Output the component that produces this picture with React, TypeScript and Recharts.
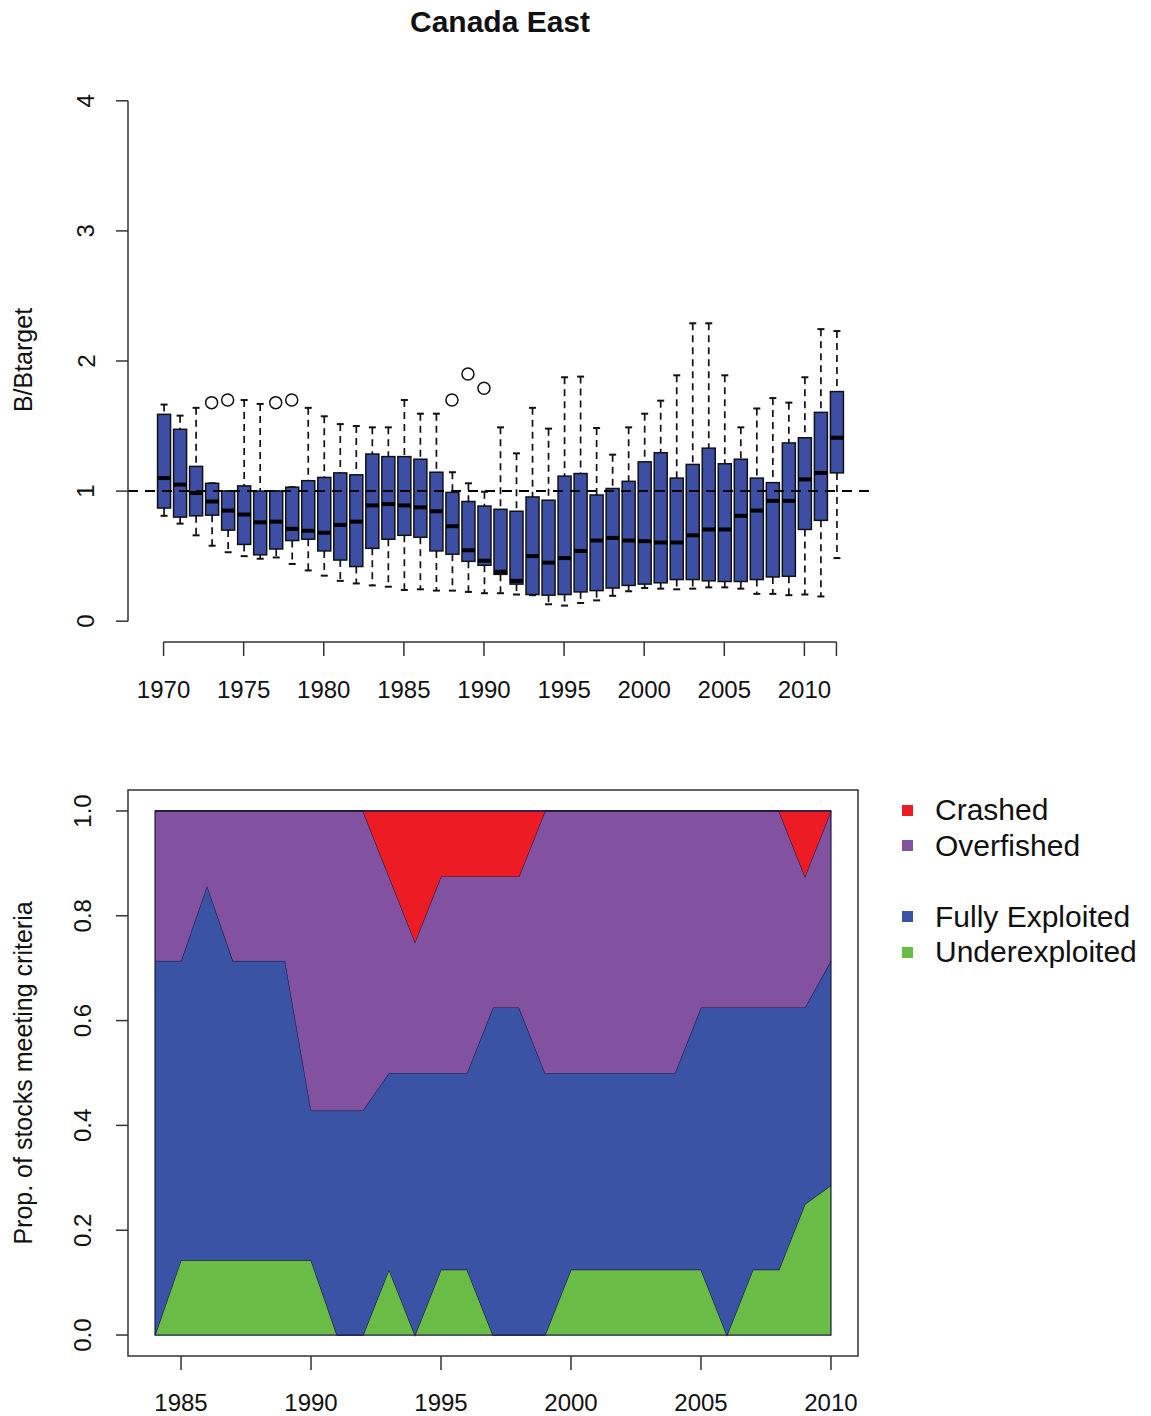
import React from 'react';
import {
  ComposedChart,
  Bar,
  Scatter,
  XAxis,
  YAxis,
  ReferenceLine,
  ReferenceArea,
  AreaChart,
  Area,
  Legend,
} from 'recharts';

const FONT = '"Liberation Sans", Arial, Helvetica, sans-serif';

// ---- top panel: B/Btarget boxplots by year ----
const boxYears = [
  1970, 1971, 1972, 1973, 1974, 1975, 1976, 1977, 1978, 1979, 1980, 1981, 1982, 1983, 1984,
  1985, 1986, 1987, 1988, 1989, 1990, 1991, 1992, 1993, 1994, 1995, 1996, 1997, 1998, 1999,
  2000, 2001, 2002, 2003, 2004, 2005, 2006, 2007, 2008, 2009, 2010, 2011, 2012,
];
const whiskerLow = [
  0.81, 0.75, 0.66, 0.58, 0.53, 0.5, 0.48, 0.49, 0.44, 0.39, 0.35, 0.31, 0.29, 0.275, 0.265,
  0.24, 0.245, 0.235, 0.235, 0.225, 0.215, 0.215, 0.205, 0.2, 0.13, 0.12, 0.14, 0.16, 0.195, 0.23,
  0.255, 0.25, 0.245, 0.25, 0.26, 0.26, 0.25, 0.21, 0.21, 0.2, 0.205, 0.19, 0.485,
];
const lowerQuartile = [
  0.87, 0.8, 0.81, 0.815, 0.7, 0.59, 0.51, 0.555, 0.62, 0.63, 0.54, 0.47, 0.42, 0.56, 0.63,
  0.66, 0.645, 0.54, 0.515, 0.46, 0.43, 0.36, 0.285, 0.205, 0.2, 0.205, 0.225, 0.235, 0.255, 0.275,
  0.285, 0.295, 0.32, 0.32, 0.31, 0.305, 0.305, 0.32, 0.34, 0.345, 0.705, 0.775, 1.14,
];
const medians = [
  1.1, 1.05, 0.985, 0.92, 0.85, 0.82, 0.76, 0.765, 0.71, 0.695, 0.68, 0.74, 0.765, 0.89, 0.9,
  0.89, 0.875, 0.845, 0.73, 0.545, 0.465, 0.38, 0.31, 0.5, 0.45, 0.485, 0.54, 0.62, 0.64, 0.62,
  0.615, 0.605, 0.605, 0.66, 0.705, 0.705, 0.81, 0.85, 0.925, 0.925, 1.09, 1.14, 1.41,
];
const upperQuartile = [
  1.59, 1.475, 1.19, 1.06, 1.0, 1.04, 1.0, 1.0, 1.03, 1.08, 1.105, 1.14, 1.125, 1.285, 1.265,
  1.265, 1.245, 1.145, 0.99, 0.92, 0.885, 0.86, 0.845, 0.955, 0.93, 1.115, 1.135, 0.97, 1.02, 1.075,
  1.225, 1.295, 1.1, 1.205, 1.33, 1.21, 1.245, 1.1, 1.065, 1.37, 1.41, 1.605, 1.765,
];
const whiskerHigh = [
  1.665, 1.58, 1.64, 1.06, 1.0, 1.7, 1.67, 1.0, 1.03, 1.64, 1.575, 1.515, 1.5, 1.49, 1.49,
  1.7, 1.595, 1.595, 1.145, 1.06, 0.995, 1.49, 1.29, 1.64, 1.48, 1.875, 1.88, 1.485, 1.28, 1.49,
  1.595, 1.695, 1.89, 2.29, 2.29, 1.89, 1.49, 1.635, 1.715, 1.68, 1.875, 2.245, 2.23,
];
const outlierYears = [1973, 1974, 1977, 1978, 1988, 1989, 1990];
const outlierValues = [1.68, 1.7, 1.68, 1.7, 1.7, 1.9, 1.79];
const boxXTicks = [1970, 1975, 1980, 1985, 1990, 1995, 2000, 2005, 2010, 2012];
const boxXLabels = ['1970', '1975', '1980', '1985', '1990', '1995', '2000', '2005', '2010', ''];
const boxYTicks = [0, 1, 2, 3, 4];

// ---- bottom panel: proportion of stocks by status ----
const areaYears = [
  1984, 1985, 1986, 1987, 1988, 1989, 1990, 1991, 1992, 1993, 1994, 1995, 1996, 1997,
  1998, 1999, 2000, 2001, 2002, 2003, 2004, 2005, 2006, 2007, 2008, 2009, 2010,
];
const underexploited = [
  0, 0.143, 0.143, 0.143, 0.143, 0.143, 0.143, 0, 0, 0.125, 0, 0.125, 0.125, 0,
  0, 0, 0.125, 0.125, 0.125, 0.125, 0.125, 0.125, 0, 0.125, 0.125, 0.25, 0.286,
];
const fullyExploited = [
  0.714, 0.571, 0.714, 0.571, 0.571, 0.571, 0.286, 0.429, 0.429, 0.375, 0.5, 0.375, 0.375, 0.625,
  0.625, 0.5, 0.375, 0.375, 0.375, 0.375, 0.375, 0.5, 0.625, 0.5, 0.5, 0.375, 0.428,
];
const overfished = [
  0.286, 0.286, 0.143, 0.286, 0.286, 0.286, 0.571, 0.571, 0.571, 0.375, 0.25, 0.375, 0.375, 0.25,
  0.25, 0.5, 0.5, 0.5, 0.5, 0.5, 0.5, 0.375, 0.375, 0.375, 0.375, 0.25, 0.286,
];
const crashed = [
  0, 0, 0, 0, 0, 0, 0, 0, 0, 0.125, 0.25, 0.125, 0.125, 0.125,
  0.125, 0, 0, 0, 0, 0, 0, 0, 0, 0, 0, 0.125, 0,
];
const areaXTicks = [1985, 1990, 1995, 2000, 2005, 2010];
const areaYTicks = [0, 0.2, 0.4, 0.6, 0.8, 1.0];

const legendLabels = ['Crashed', 'Overfished', '', 'Fully Exploited', 'Underexploited'];
const legendColors = ['#ED1C24', '#8251A0', '', '#3A53A4', '#69BC45'];

const BOX_FILL = '#3D4FA5';
const AXIS_COLOR = '#333';

const boxData = boxYears.map((year, i) => ({
  year,
  lo: whiskerLow[i],
  q1: lowerQuartile[i],
  med: medians[i],
  q3: upperQuartile[i],
  hi: whiskerHigh[i],
}));
const outlierData = outlierYears.map((year, i) => ({ year, value: outlierValues[i] }));

const areaData = areaYears.map((year, i) => ({
  year,
  under: underexploited[i],
  full: fullyExploited[i],
  over: overfished[i],
  crash: crashed[i],
}));

// top panel geometry (page pixels, chart placed at 0,0)
const TOP_H = 720;
const TOP_PLOT_BOTTOM = 642;
const TOP_X_DOMAIN = [1967.78, 2014.22];
const TOP_Y_DOMAIN = [-0.16, 4.16];

// bottom panel geometry (chart placed at top 740)
const BOT_TOP = 740;
const BOT_H = 676;
const BOT_PLOT_BOTTOM = 616;
const BOT_X_DOMAIN = [1982.96, 2011.04];
const BOT_Y_DOMAIN = [-0.04, 1.04];

const BoxShape = (props: any) => {
  const { x, y, width, height, payload } = props;
  const { lo, q1, med, q3, hi } = payload;
  const span = hi - lo;
  const py = (v: number) => (span > 0 ? y + ((hi - v) / span) * height : y);
  const cx = x + width / 2;
  const cap = 7;
  return (
    <g>
      <line x1={cx} x2={cx} y1={py(hi)} y2={py(q3)} stroke="#111" strokeWidth={1.7} strokeDasharray="7 5" />
      <line x1={cx} x2={cx} y1={py(q1)} y2={py(lo)} stroke="#111" strokeWidth={1.7} strokeDasharray="7 5" />
      <line x1={cx - cap / 2} x2={cx + cap / 2} y1={py(hi)} y2={py(hi)} stroke="#111" strokeWidth={2} />
      <line x1={cx - cap / 2} x2={cx + cap / 2} y1={py(lo)} y2={py(lo)} stroke="#111" strokeWidth={2} />
      <rect x={x} y={py(q3)} width={width} height={py(q1) - py(q3)} fill={BOX_FILL} stroke="#111" strokeWidth={1.5} />
      <line x1={x} x2={x + width} y1={py(med)} y2={py(med)} stroke="#000" strokeWidth={4} />
    </g>
  );
};

const OpenCircle = (props: any) => (
  <circle cx={props.cx} cy={props.cy} r={6} fill="none" stroke="#111" strokeWidth={1.5} />
);

const topXTick = (p: any) => {
  const idx = boxXTicks.indexOf(p.payload.value);
  return (
    <g>
      <line x1={p.x} x2={p.x} y1={TOP_PLOT_BOTTOM} y2={TOP_PLOT_BOTTOM + 14} stroke={AXIS_COLOR} strokeWidth={1.5} />
      <text x={p.x} y={TOP_PLOT_BOTTOM + 47} textAnchor="middle" dominantBaseline="central" fontSize={24} fontFamily={FONT} fill="#111">
        {boxXLabels[idx]}
      </text>
    </g>
  );
};

const topYTick = (p: any) => (
  <g>
    <line x1={116} x2={128} y1={p.y} y2={p.y} stroke={AXIS_COLOR} strokeWidth={1.5} />
    <text x={86} y={p.y} transform={`rotate(-90 86 ${p.y})`} textAnchor="middle" dominantBaseline="central" fontSize={24} fontFamily={FONT} fill="#111">
      {p.payload.value}
    </text>
  </g>
);

const botXTick = (p: any) => (
  <g>
    <line x1={p.x} x2={p.x} y1={BOT_PLOT_BOTTOM} y2={BOT_PLOT_BOTTOM + 14} stroke={AXIS_COLOR} strokeWidth={1.5} />
    <text x={p.x} y={BOT_PLOT_BOTTOM + 46} textAnchor="middle" dominantBaseline="central" fontSize={24} fontFamily={FONT} fill="#111">
      {p.payload.value}
    </text>
  </g>
);

const botYTick = (p: any) => (
  <g>
    <line x1={116} x2={128} y1={p.y} y2={p.y} stroke={AXIS_COLOR} strokeWidth={1.5} />
    <text x={83} y={p.y} transform={`rotate(-90 83 ${p.y})`} textAnchor="middle" dominantBaseline="central" fontSize={24} fontFamily={FONT} fill="#111">
      {Number(p.payload.value).toFixed(1)}
    </text>
  </g>
);

const StatusLegend = () => (
  <div style={{ position: 'relative', width: 256, height: 180, fontFamily: FONT }}>
    {legendLabels.map((label, i) =>
      label ? (
        <div key={label} style={{ position: 'absolute', left: 0, top: i * 35.5, height: 36, display: 'flex', alignItems: 'center' }}>
          <span style={{ display: 'inline-block', width: 11, height: 11, marginLeft: 7, background: legendColors[i] }} />
          <span style={{ marginLeft: 22, fontSize: 30, color: '#111', whiteSpace: 'nowrap' }}>{label}</span>
        </div>
      ) : null
    )}
  </div>
);

const AxisTitle = ({ text, cx, cy }: { text: string; cx: number; cy: number }) => (
  <div
    style={{
      position: 'absolute',
      left: cx,
      top: cy,
      transform: 'translate(-50%, -50%) rotate(-90deg)',
      whiteSpace: 'nowrap',
      fontSize: 25,
      fontFamily: FONT,
      color: '#111',
    }}
  >
    {text}
  </div>
);

export default function App() {
  return (
    <div style={{ position: 'absolute', left: 0, top: 0, width: 1151, height: 1416, background: '#fff', overflow: 'hidden' }}>
      <div
        style={{
          position: 'absolute',
          left: 500,
          top: 22,
          transform: 'translate(-50%, -50%)',
          fontSize: 30,
          fontWeight: 'bold',
          fontFamily: FONT,
          color: '#111',
          whiteSpace: 'nowrap',
        }}
      >
        Canada East
      </div>
      <AxisTitle text="B/Btarget" cx={23} cy={360} />
      <AxisTitle text="Prop. of stocks meeting criteria" cx={23} cy={1073} />

      <div style={{ position: 'absolute', left: 0, top: 0 }}>
        <ComposedChart width={1151} height={TOP_H} data={boxData} margin={{ top: 80, right: 279, bottom: 0, left: 0 }}>
          <XAxis
            dataKey="year"
            type="number"
            domain={TOP_X_DOMAIN}
            allowDataOverflow
            ticks={boxXTicks}
            interval={0}
            height={TOP_H - TOP_PLOT_BOTTOM}
            axisLine={false}
            tickLine={false}
            tick={topXTick}
          />
          <YAxis
            type="number"
            domain={TOP_Y_DOMAIN}
            allowDataOverflow
            ticks={boxYTicks}
            interval={0}
            width={128}
            axisLine={false}
            tickLine={false}
            tick={topYTick}
          />
          <Bar dataKey={(d: any) => [d.lo, d.hi]} barSize={13} shape={<BoxShape />} isAnimationActive={false} />
          <Scatter data={outlierData} dataKey="value" shape={<OpenCircle />} isAnimationActive={false} />
          <ReferenceLine y={1} stroke="#000" strokeWidth={2} strokeDasharray="10 7" />
          <ReferenceLine
            segment={[{ x: 1970, y: TOP_Y_DOMAIN[0] }, { x: 2012, y: TOP_Y_DOMAIN[0] }]}
            stroke={AXIS_COLOR}
            strokeWidth={1.5}
            ifOverflow="visible"
          />
          <ReferenceLine
            segment={[{ x: TOP_X_DOMAIN[0], y: 0 }, { x: TOP_X_DOMAIN[0], y: 4 }]}
            stroke={AXIS_COLOR}
            strokeWidth={1.5}
            ifOverflow="visible"
          />
        </ComposedChart>
      </div>

      <div style={{ position: 'absolute', left: 0, top: BOT_TOP }}>
        <AreaChart width={1151} height={BOT_H} data={areaData} margin={{ top: 50, right: 293, bottom: 0, left: 0 }}>
          <XAxis
            dataKey="year"
            type="number"
            domain={BOT_X_DOMAIN}
            allowDataOverflow
            ticks={areaXTicks}
            interval={0}
            height={BOT_H - BOT_PLOT_BOTTOM}
            axisLine={false}
            tickLine={false}
            tick={botXTick}
          />
          <YAxis
            type="number"
            domain={BOT_Y_DOMAIN}
            allowDataOverflow
            ticks={areaYTicks}
            interval={0}
            width={128}
            axisLine={false}
            tickLine={false}
            tick={botYTick}
          />
          <Area type="linear" dataKey="under" name="Underexploited" stackId="s" fill="#69BC45" fillOpacity={1} stroke="#1a1a40" strokeWidth={1.2} dot={false} activeDot={false} isAnimationActive={false} />
          <Area type="linear" dataKey="full" name="Fully Exploited" stackId="s" fill="#3A53A4" fillOpacity={1} stroke="#1a1a40" strokeWidth={1.2} dot={false} activeDot={false} isAnimationActive={false} />
          <Area type="linear" dataKey="over" name="Overfished" stackId="s" fill="#8251A0" fillOpacity={1} stroke="#1a1a40" strokeWidth={1.2} dot={false} activeDot={false} isAnimationActive={false} />
          <Area type="linear" dataKey="crash" name="Crashed" stackId="s" fill="#ED1C24" fillOpacity={1} stroke="#1a1a40" strokeWidth={1.2} dot={false} activeDot={false} isAnimationActive={false} />
          <ReferenceArea x1={1984} x2={2010} y1={0} y2={1} fill="none" stroke="#1a1a40" strokeWidth={1.2} ifOverflow="visible" />
          <ReferenceArea
            x1={BOT_X_DOMAIN[0]}
            x2={BOT_X_DOMAIN[1]}
            y1={BOT_Y_DOMAIN[0]}
            y2={BOT_Y_DOMAIN[1]}
            fill="none"
            stroke={AXIS_COLOR}
            strokeWidth={1.5}
            ifOverflow="visible"
          />
          <Legend
            layout="vertical"
            align="center"
            verticalAlign="middle"
            wrapperStyle={{ position: 'absolute', left: 895, top: 52, width: 256 }}
            content={() => <StatusLegend />}
          />
        </AreaChart>
      </div>
    </div>
  );
}
